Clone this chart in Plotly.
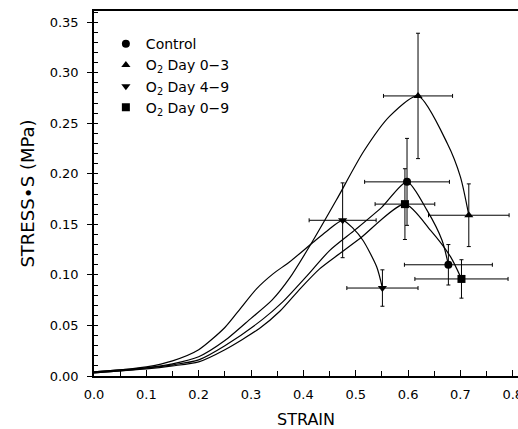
import plotly.graph_objects as go

# ---- data ----
series_names = ["Control", "O<sub>2</sub> Day 0\u22123", "O<sub>2</sub> Day 4\u22129", "O<sub>2</sub> Day 0\u22129"]

# continuous stress-strain curves
control_curve_x = [0.0, 0.05, 0.10, 0.15, 0.20, 0.25, 0.322, 0.36, 0.405, 0.45, 0.50, 0.55, 0.598, 0.636, 0.665, 0.677]
control_curve_y = [0.004, 0.006, 0.008, 0.011, 0.016, 0.030, 0.056, 0.073, 0.098, 0.124, 0.145, 0.167, 0.192, 0.164, 0.134, 0.110]

day03_curve_x = [0.0, 0.05, 0.10, 0.15, 0.20, 0.25, 0.30, 0.34, 0.374, 0.415, 0.463, 0.515, 0.565, 0.619, 0.675, 0.70, 0.716]
day03_curve_y = [0.003, 0.005, 0.008, 0.012, 0.019, 0.035, 0.057, 0.075, 0.097, 0.131, 0.174, 0.222, 0.257, 0.277, 0.230, 0.197, 0.159]

day49_curve_x = [0.0, 0.05, 0.10, 0.15, 0.20, 0.25, 0.28, 0.31, 0.342, 0.374, 0.418, 0.444, 0.475, 0.495, 0.514, 0.540, 0.551]
day49_curve_y = [0.004, 0.006, 0.009, 0.015, 0.026, 0.048, 0.067, 0.086, 0.101, 0.113, 0.132, 0.143, 0.154, 0.146, 0.134, 0.108, 0.087]

day09_curve_x = [0.0, 0.05, 0.10, 0.15, 0.20, 0.25, 0.316, 0.355, 0.395, 0.431, 0.469, 0.508, 0.594, 0.643, 0.681, 0.702]
day09_curve_y = [0.003, 0.005, 0.007, 0.010, 0.014, 0.026, 0.047, 0.064, 0.087, 0.106, 0.121, 0.136, 0.170, 0.144, 0.118, 0.096]

# marker points with error bars
control_pts_x = [0.598, 0.677]
control_pts_y = [0.192, 0.110]
control_err_x = [0.081, 0.084]
control_err_y = [0.043, 0.020]

day03_pts_x = [0.619, 0.716]
day03_pts_y = [0.277, 0.159]
day03_err_x = [0.066, 0.077]
day03_err_y = [0.062, 0.031]

day49_pts_x = [0.475, 0.551]
day49_pts_y = [0.154, 0.087]
day49_err_x = [0.064, 0.068]
day49_err_y = [0.037, 0.018]

day09_pts_x = [0.594, 0.702]
day09_pts_y = [0.170, 0.096]
day09_err_x = [0.057, 0.089]
day09_err_y = [0.035, 0.019]

x_tick_vals = [0.0, 0.1, 0.2, 0.3, 0.4, 0.5, 0.6, 0.7, 0.8]
y_tick_vals = [0.00, 0.05, 0.10, 0.15, 0.20, 0.25, 0.30, 0.35]

curves = [
    (control_curve_x, control_curve_y),
    (day03_curve_x, day03_curve_y),
    (day49_curve_x, day49_curve_y),
    (day09_curve_x, day09_curve_y),
]
points = [
    (control_pts_x, control_pts_y, control_err_x, control_err_y, "circle"),
    (day03_pts_x, day03_pts_y, day03_err_x, day03_err_y, "triangle-up"),
    (day49_pts_x, day49_pts_y, day49_err_x, day49_err_y, "triangle-down"),
    (day09_pts_x, day09_pts_y, day09_err_x, day09_err_y, "square"),
]

FONT = "DejaVu Sans"
fig = go.Figure()

for cx, cy in curves:
    fig.add_trace(go.Scatter(
        x=cx, y=cy, mode="lines", showlegend=False, hoverinfo="skip",
        line=dict(color="black", width=1.2, shape="spline", smoothing=0.7),
    ))

for name, (px, py, ex, ey, sym) in zip(series_names, points):
    fig.add_trace(go.Scatter(
        x=px, y=py, mode="markers", name=name,
        marker=dict(symbol=sym, size=8, color="black"),
        error_x=dict(type="data", array=ex, visible=True, color="black", thickness=1, width=2),
        error_y=dict(type="data", array=ey, visible=True, color="black", thickness=1, width=2),
    ))

fig.update_layout(
    width=518, height=429,
    margin=dict(l=94, r=0, t=11, b=53),
    paper_bgcolor="white", plot_bgcolor="white",
    font=dict(family=FONT, size=13, color="black"),
    showlegend=True,
    legend=dict(
        x=0.028, y=0.953, xanchor="left", yanchor="top",
        bgcolor="rgba(0,0,0,0)", borderwidth=0,
        font=dict(family=FONT, size=14, color="black"),
        itemsizing="trace", tracegroupgap=0,
    ),
    xaxis=dict(
        range=[0, 0.81], tickvals=x_tick_vals, tickformat=".1f",
        showgrid=False, zeroline=False, automargin=False,
        showline=True, linecolor="black", linewidth=1.5, mirror=True,
        ticks="inside", ticklen=6, tickwidth=1.2, tickcolor="black",
        minor=dict(dtick=0.05, tick0=0, ticks="inside", ticklen=5, tickwidth=1, tickcolor="black"),
        tickfont=dict(family=FONT, size=13),
        ticklabelstandoff=6, ticklabeloverflow="allow",
        title=dict(text="STRAIN", font=dict(family=FONT, size=16), standoff=12),
    ),
    yaxis=dict(
        range=[0, 0.361], tickvals=y_tick_vals, tickformat=".2f",
        showgrid=False, zeroline=False, automargin=False,
        showline=True, linecolor="black", linewidth=1.5, mirror=False,
        ticks="outside", ticklen=5, tickwidth=1.2, tickcolor="black",
        minor=dict(dtick=0.01, tick0=0, ticks="inside", ticklen=4, tickwidth=1, tickcolor="black"),
        tickfont=dict(family=FONT, size=13),
        ticklabelstandoff=6, ticklabeloverflow="allow",
        title=dict(text="STRESS\u2219S (MPa)", font=dict(family=FONT, size=18), standoff=10),
    ),
)

# remove the default page margin so the figure fills the window exactly
fig.write_html(
    "out.html",
    config={"displayModeBar": False},
    post_script="document.body.style.margin='0';document.body.style.overflow='hidden';",
)
